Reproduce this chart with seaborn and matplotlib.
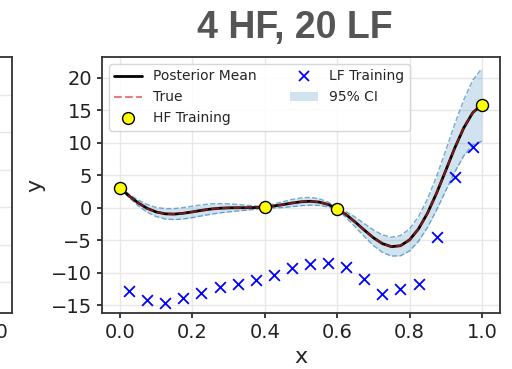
import matplotlib
matplotlib.use("Agg")
import matplotlib.pyplot as plt
import seaborn as sns
import pandas as pd
from matplotlib.lines import Line2D
from matplotlib.patches import Patch

# Prediction grid and curves (Forrester-type test function)
grid_x = [0.0, 0.025, 0.05, 0.075, 0.1, 0.125, 0.15, 0.175, 0.2, 0.225,
          0.25, 0.275, 0.3, 0.325, 0.35, 0.375, 0.4, 0.425, 0.45, 0.475,
          0.5, 0.525, 0.55, 0.575, 0.6, 0.625, 0.65, 0.675, 0.7, 0.725,
          0.75, 0.775, 0.8, 0.825, 0.85, 0.875, 0.9, 0.925, 0.95, 0.975, 1.0]
true_y = [3.03, 1.81, 0.74, -0.10, -0.66, -0.94, -0.98, -0.85, -0.64, -0.41,
          -0.21, -0.08, -0.02, 0.00, 0.00, 0.03, 0.12, 0.27, 0.48, 0.72,
          0.91, 0.99, 0.87, 0.50, -0.15, -1.07, -2.21, -3.44, -4.61, -5.52,
          -5.99, -5.85, -4.95, -3.25, -0.80, 2.27, 5.71, 9.19, 12.30, 14.65, 15.83]
mean_y = [3.03, 1.81, 0.74, -0.10, -0.66, -0.94, -0.98, -0.85, -0.64, -0.41,
          -0.21, -0.08, -0.02, 0.00, 0.00, 0.03, 0.12, 0.27, 0.48, 0.72,
          0.91, 0.99, 0.87, 0.50, -0.15, -1.07, -2.21, -3.44, -4.61, -5.52,
          -5.99, -5.85, -4.95, -3.25, -0.80, 2.27, 5.71, 9.19, 12.30, 14.65, 15.83]
# half-width of the 95% credible interval
ci_half = [0.05, 0.25, 0.45, 0.6, 0.7, 0.8, 0.85, 0.88, 0.88, 0.85,
           0.8, 0.72, 0.62, 0.5, 0.38, 0.25, 0.1, 0.3, 0.45, 0.55,
           0.6, 0.6, 0.52, 0.38, 0.15, 0.45, 0.75, 1.0, 1.2, 1.35,
           1.45, 1.55, 1.7, 1.9, 2.2, 2.6, 3.1, 3.7, 4.3, 5.0, 5.6]

# Training data
hf_x = [0.0, 0.4, 0.6, 1.0]
hf_y = [3.03, 0.12, -0.15, 15.83]
lf_x = [0.025, 0.075, 0.125, 0.175, 0.225, 0.275, 0.325, 0.375, 0.425, 0.475,
        0.525, 0.575, 0.625, 0.675, 0.725, 0.775, 0.825, 0.875, 0.925, 0.975]
lf_y = [-12.8, -14.2, -14.6, -13.9, -13.1, -12.2, -11.7, -11.2, -10.4, -9.2,
        -8.7, -8.5, -9.1, -10.9, -13.3, -12.5, -11.7, -4.5, 4.8, 9.3]

x_ticks = [0.0, 0.2, 0.4, 0.6, 0.8, 1.0]
x_ticklabels = ["0.0", "0.2", "0.4", "0.6", "0.8", "1.0"]
y_ticks = [-15, -10, -5, 0, 5, 10, 15, 20]

sns.set_theme(style="whitegrid", rc={
    "axes.edgecolor": "#333333",
    "axes.linewidth": 1.3,
    "grid.color": "#e8e8e8",
    "grid.linewidth": 1.0,
    "xtick.bottom": True,
    "ytick.left": True,
    "xtick.color": "#222222",
    "ytick.color": "#222222",
    "xtick.major.size": 3.5,
    "ytick.major.size": 3.5,
})
plt.rcParams["font.family"] = ["DejaVu Sans"]

fig = plt.figure(figsize=(5.12, 3.69), dpi=100)

# neighbouring panel, only its right edge falls inside the figure
ax_prev = fig.add_axes([-0.7545, 0.1518, 0.7773, 0.6938])
ax_prev.set_xlim(-0.05, 1.05)
ax_prev.set_ylim(-19.07, 15.07)
ax_prev.set_xticks(x_ticks)
ax_prev.set_xticklabels(["", "", "", "", "", "1.0"], fontsize=14)
ax_prev.set_yticks([-15, -10, -5, 0, 5, 10])
ax_prev.set_yticklabels([])
ax_prev.tick_params(axis="y", length=0)

ax = fig.add_axes([0.1992, 0.1518, 0.7773, 0.6938])

curve = pd.DataFrame({"x": grid_x, "mean": mean_y, "true": true_y, "ci": ci_half})
curve["lower"] = curve["mean"] - curve["ci"]
curve["upper"] = curve["mean"] + curve["ci"]

ax.fill_between(curve["x"], curve["lower"], curve["upper"],
                color="#1f77b4", alpha=0.2, linewidth=0, zorder=1)
sns.lineplot(data=curve, x="x", y="lower", ax=ax, color="#1f77b4", alpha=0.6,
             linewidth=1.0, linestyle="--", zorder=2)
sns.lineplot(data=curve, x="x", y="upper", ax=ax, color="#1f77b4", alpha=0.6,
             linewidth=1.0, linestyle="--", zorder=2)
sns.lineplot(data=curve, x="x", y="mean", ax=ax, color="black",
             linewidth=2.0, zorder=3)
sns.lineplot(data=curve, x="x", y="true", ax=ax, color="#d62728", alpha=0.6,
             linewidth=1.5, linestyle="--", zorder=4)

lf = pd.DataFrame({"x": lf_x, "y": lf_y})
hf = pd.DataFrame({"x": hf_x, "y": hf_y})
sns.scatterplot(data=lf, x="x", y="y", ax=ax, marker="x", color="blue",
                s=60, linewidth=1.3, zorder=5)
sns.scatterplot(data=hf, x="x", y="y", ax=ax, marker="o", color="yellow",
                edgecolor="black", s=75, linewidth=1.0, zorder=6)

ax.set_xlim(-0.05, 1.05)
ax.set_ylim(-16.2, 23.2)
ax.set_xticks(x_ticks)
ax.set_xticklabels(x_ticklabels, fontsize=14)
ax.set_yticks(y_ticks)
ax.tick_params(axis="y", labelsize=14)
ax.set_xlabel("x", fontsize=16)
ax.set_ylabel("y", fontsize=16)

handles = [
    Line2D([], [], color="black", linewidth=2.0),
    Line2D([], [], color="#d62728", alpha=0.6, linewidth=1.5, linestyle="--"),
    Line2D([], [], marker="o", linestyle="none", markerfacecolor="yellow",
           markeredgecolor="black", markersize=8.5),
    Line2D([], [], marker="x", linestyle="none", color="blue",
           markersize=7, markeredgewidth=1.3),
    Patch(facecolor="#1f77b4", alpha=0.2, edgecolor="none"),
]
labels = ["Posterior Mean", "True", "HF Training", "LF Training", "95% CI"]
ax.legend(handles, labels, loc="upper left", ncol=2, fontsize=10,
          frameon=True, framealpha=0.85, edgecolor="#d0d0d0",
          columnspacing=2.4)

fig.text(0.576, 0.897, "4 HF, 20 LF", ha="center", va="baseline",
         fontsize=27, fontweight="bold", color="#555555",
         family=["Liberation Sans", "DejaVu Sans"])

fig.savefig("out.png", dpi=100)
